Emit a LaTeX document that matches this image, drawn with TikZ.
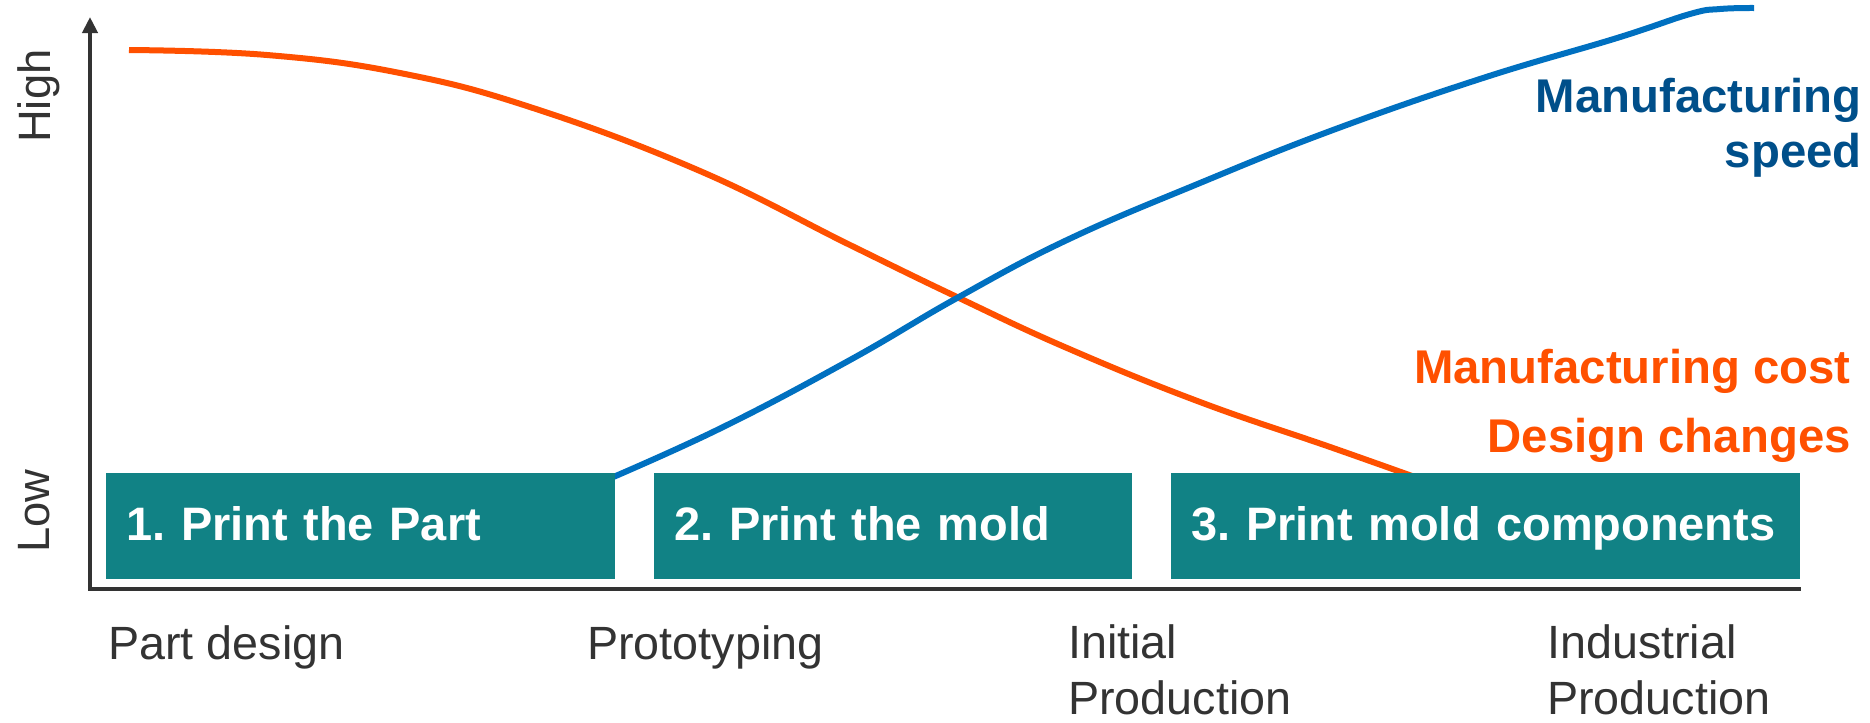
\documentclass[tikz,border=0pt]{standalone}
\usepackage{fontspec}
\setmainfont{Liberation Sans}
\usetikzlibrary{arrows.meta}
\definecolor{axisgray}{HTML}{333333}
\definecolor{orangeC}{HTML}{FF5000}
\definecolor{blueC}{HTML}{0070C0}
\definecolor{darkblueC}{HTML}{004F8A}
\definecolor{tealC}{HTML}{118285}
\frenchspacing
\begin{document}
\begin{tikzpicture}[x=0.75pt,y=-0.75pt,
  axisline/.style={draw=axisgray,line width=3pt},
  curveline/.style={line width=4.5pt,line cap=butt},
  stepbox/.style={fill=tealC,text=white,font=\fontsize{35.2}{42}\selectfont\bfseries,
    inner xsep=15pt,inner ysep=0pt,text height=50.25pt,text depth=29.25pt,
    align=left,anchor=north west},
  axislbl/.style={text=axisgray,font=\fontsize{34}{40}\selectfont,inner sep=0pt,rotate=90,anchor=base west},
  stagelbl/.style={text=axisgray,font=\fontsize{35}{42}\selectfont,inner sep=0pt,anchor=base west,align=left}]
\useasboundingbox (0,0) rectangle (1870,722);

% axes
\draw[axisline,line join=miter,{Triangle[width=11.25pt,length=12pt]}-] (90,17) -- (90,589) -- (1801,589);

% curves
\draw[curveline,orangeC] plot[smooth,tension=0.7] coordinates {
 (129,50) (267,55) (400,73) (533,108) (700,171) (850,245)
 (957,297) (1067,348) (1200,402) (1333,448) (1440,486)};
\draw[curveline,blueC] plot[smooth,tension=0.7] coordinates {
 (590,487) (717,430) (850,360) (957,298) (1067,240) (1200,183)
 (1333,130) (1483,78) (1617,38) (1690,14) (1720,9) (1754,8)};

% step boxes
\node[stepbox,text width=351.75pt] (b1) at (106,473) {\mbox{1. Print the Part}};
\node[stepbox,text width=328.5pt] (b2) at (654,473) {\mbox{2. Print the mold}};
\node[stepbox,text width=441.75pt] (b3) at (1171,473) {\mbox{3. Print mold components}};

% axis labels
\node[axislbl] (high) at (50,143) {High};
\node[axislbl] (low) at (49,553) {Low};

% stage labels
\node[stagelbl] (s1) at (108,659) {Part design};
\node[stagelbl] (s2) at (587,659) {Prototyping};
\node[stagelbl] (s3) at (1068,714) {Initial\\Production};
\node[stagelbl] (s4) at (1547,714) {Industrial\\Production};

% curve labels
\node[text=darkblueC,font=\fontsize{35.5}{41.25}\selectfont\bfseries,inner sep=0pt,align=right,anchor=base east] (speed) at (1862,167) {Manufacturing\\speed};
\node[text=orangeC,font=\fontsize{35.5}{51.75}\selectfont\bfseries,inner sep=0pt,align=right,anchor=base east] (cost) at (1851,452) {Manufacturing cost\\Design changes};
\end{tikzpicture}
\end{document}
